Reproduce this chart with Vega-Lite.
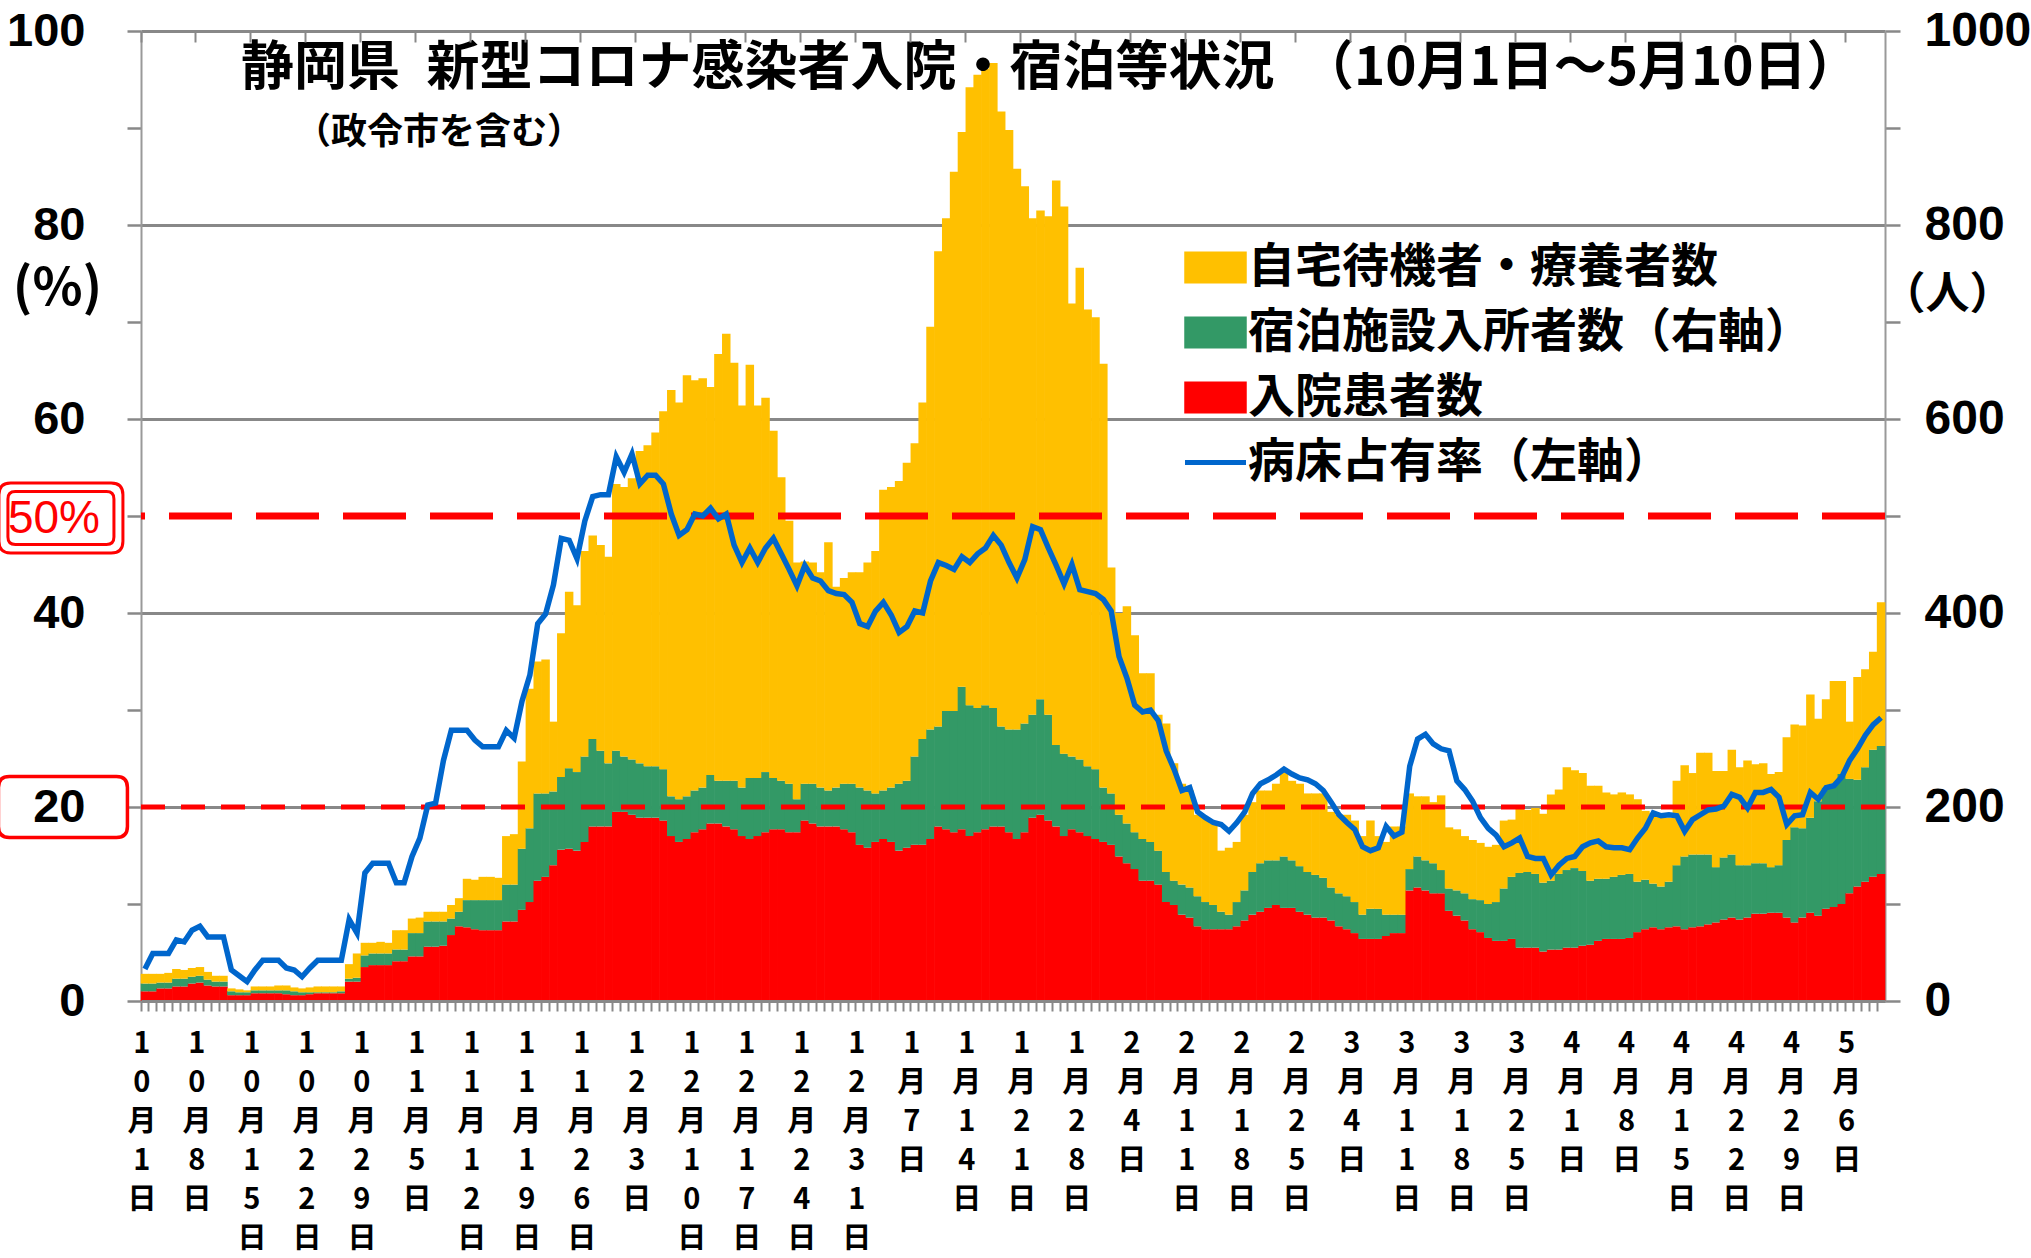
{
"$schema": "https://vega.github.io/schema/vega-lite/v6.json",
"width": 1744, "height": 970,
"autosize": {"type": "none"},
"padding": {"left": 141, "top": 31, "right": 146, "bottom": 257},
"background": "white",
"config": {"view": {"stroke": null}},
"title": {"text": "静岡県\u2002新型コロナ感染者入院・宿泊等状況　（10月1日～5月10日）", "subtitle": "\u200B　　（政令市を含む）", "anchor": "start", "frame": "group", "dx": 100, "offset": -144, "font": "Noto Sans CJK JP", "fontSize": 53, "fontWeight": "bold", "color": "#000000", "subtitleFont": "Noto Sans CJK JP", "subtitleFontSize": 36, "subtitleFontWeight": "bold", "subtitleColor": "#000000", "subtitlePadding": 20},
"data": {"values": [
{"d":"2020-10-01","h":10,"s":8,"w":10,"p":3.3},
{"d":"2020-10-02","h":10,"s":8,"w":10,"p":4.9},
{"d":"2020-10-03","h":13,"s":6,"w":9,"p":4.9},
{"d":"2020-10-04","h":13,"s":6,"w":10,"p":4.9},
{"d":"2020-10-05","h":15,"s":8,"w":10,"p":6.3},
{"d":"2020-10-06","h":15,"s":8,"w":9,"p":6.1},
{"d":"2020-10-07","h":18,"s":7,"w":9,"p":7.3},
{"d":"2020-10-08","h":19,"s":7,"w":9,"p":7.7},
{"d":"2020-10-09","h":16,"s":6,"w":8,"p":6.6},
{"d":"2020-10-10","h":15,"s":5,"w":6,"p":6.6},
{"d":"2020-10-11","h":15,"s":5,"w":6,"p":6.6},
{"d":"2020-10-12","h":6,"s":4,"w":3,"p":3.2},
{"d":"2020-10-13","h":6,"s":3,"w":3,"p":2.6},
{"d":"2020-10-14","h":6,"s":3,"w":2,"p":2.0},
{"d":"2020-10-15","h":8,"s":3,"w":4,"p":3.2},
{"d":"2020-10-16","h":8,"s":3,"w":4,"p":4.2},
{"d":"2020-10-17","h":8,"s":3,"w":4,"p":4.2},
{"d":"2020-10-18","h":8,"s":3,"w":5,"p":4.2},
{"d":"2020-10-19","h":7,"s":4,"w":5,"p":3.4},
{"d":"2020-10-20","h":6,"s":4,"w":4,"p":3.2},
{"d":"2020-10-21","h":6,"s":3,"w":4,"p":2.5},
{"d":"2020-10-22","h":7,"s":2,"w":5,"p":3.4},
{"d":"2020-10-23","h":8,"s":1,"w":6,"p":4.2},
{"d":"2020-10-24","h":8,"s":1,"w":6,"p":4.2},
{"d":"2020-10-25","h":8,"s":1,"w":6,"p":4.2},
{"d":"2020-10-26","h":8,"s":2,"w":5,"p":4.2},
{"d":"2020-10-27","h":20,"s":3,"w":15,"p":8.4},
{"d":"2020-10-28","h":20,"s":4,"w":25,"p":7.0},
{"d":"2020-10-29","h":35,"s":12,"w":13,"p":13.2},
{"d":"2020-10-30","h":37,"s":12,"w":11,"p":14.2},
{"d":"2020-10-31","h":37,"s":12,"w":12,"p":14.2},
{"d":"2020-11-01","h":37,"s":12,"w":11,"p":14.2},
{"d":"2020-11-02","h":41,"s":12,"w":20,"p":12.2},
{"d":"2020-11-03","h":41,"s":12,"w":20,"p":12.2},
{"d":"2020-11-04","h":46,"s":24,"w":15,"p":14.9},
{"d":"2020-11-05","h":46,"s":24,"w":16,"p":16.8},
{"d":"2020-11-06","h":56,"s":26,"w":10,"p":20.2},
{"d":"2020-11-07","h":56,"s":26,"w":10,"p":20.4},
{"d":"2020-11-08","h":57,"s":25,"w":10,"p":24.8},
{"d":"2020-11-09","h":68,"s":17,"w":14,"p":27.9},
{"d":"2020-11-10","h":77,"s":15,"w":14,"p":27.9},
{"d":"2020-11-11","h":76,"s":28,"w":22,"p":27.9},
{"d":"2020-11-12","h":74,"s":30,"w":21,"p":26.9},
{"d":"2020-11-13","h":73,"s":31,"w":24,"p":26.2},
{"d":"2020-11-14","h":73,"s":31,"w":24,"p":26.2},
{"d":"2020-11-15","h":73,"s":31,"w":23,"p":26.2},
{"d":"2020-11-16","h":82,"s":38,"w":50,"p":27.9},
{"d":"2020-11-17","h":82,"s":38,"w":52,"p":27.1},
{"d":"2020-11-18","h":94,"s":63,"w":90,"p":30.9},
{"d":"2020-11-19","h":102,"s":76,"w":144,"p":33.6},
{"d":"2020-11-20","h":124,"s":90,"w":136,"p":38.9},
{"d":"2020-11-21","h":128,"s":86,"w":138,"p":39.9},
{"d":"2020-11-22","h":140,"s":76,"w":72,"p":42.9},
{"d":"2020-11-23","h":156,"s":75,"w":148,"p":47.7},
{"d":"2020-11-24","h":157,"s":83,"w":182,"p":47.5},
{"d":"2020-11-25","h":155,"s":81,"w":172,"p":45.6},
{"d":"2020-11-26","h":164,"s":88,"w":212,"p":49.5},
{"d":"2020-11-27","h":180,"s":90,"w":210,"p":52.0},
{"d":"2020-11-28","h":180,"s":78,"w":212,"p":52.2},
{"d":"2020-11-29","h":180,"s":65,"w":213,"p":52.2},
{"d":"2020-11-30","h":195,"s":63,"w":275,"p":56.1},
{"d":"2020-12-01","h":195,"s":57,"w":278,"p":54.5},
{"d":"2020-12-02","h":192,"s":57,"w":290,"p":56.4},
{"d":"2020-12-03","h":189,"s":56,"w":322,"p":53.3},
{"d":"2020-12-04","h":189,"s":53,"w":331,"p":54.2},
{"d":"2020-12-05","h":189,"s":53,"w":344,"p":54.2},
{"d":"2020-12-06","h":186,"s":53,"w":369,"p":53.3},
{"d":"2020-12-07","h":170,"s":41,"w":419,"p":50.2},
{"d":"2020-12-08","h":164,"s":44,"w":409,"p":48.0},
{"d":"2020-12-09","h":167,"s":44,"w":434,"p":48.6},
{"d":"2020-12-10","h":174,"s":43,"w":423,"p":50.2},
{"d":"2020-12-11","h":177,"s":43,"w":422,"p":50.0},
{"d":"2020-12-12","h":183,"s":50,"w":400,"p":50.8},
{"d":"2020-12-13","h":183,"s":44,"w":440,"p":49.7},
{"d":"2020-12-14","h":180,"s":47,"w":461,"p":50.2},
{"d":"2020-12-15","h":177,"s":50,"w":431,"p":47.0},
{"d":"2020-12-16","h":170,"s":50,"w":394,"p":45.2},
{"d":"2020-12-17","h":167,"s":63,"w":426,"p":46.7},
{"d":"2020-12-18","h":170,"s":60,"w":384,"p":45.2},
{"d":"2020-12-19","h":174,"s":62,"w":386,"p":46.7},
{"d":"2020-12-20","h":177,"s":53,"w":358,"p":47.7},
{"d":"2020-12-21","h":177,"s":50,"w":313,"p":46.1},
{"d":"2020-12-22","h":174,"s":50,"w":271,"p":44.5},
{"d":"2020-12-23","h":174,"s":34,"w":244,"p":42.8},
{"d":"2020-12-24","h":186,"s":38,"w":229,"p":44.9},
{"d":"2020-12-25","h":183,"s":41,"w":228,"p":43.6},
{"d":"2020-12-26","h":180,"s":40,"w":222,"p":43.3},
{"d":"2020-12-27","h":180,"s":37,"w":256,"p":42.3},
{"d":"2020-12-28","h":180,"s":40,"w":207,"p":42.0},
{"d":"2020-12-29","h":177,"s":47,"w":212,"p":41.9},
{"d":"2020-12-30","h":174,"s":50,"w":218,"p":41.1},
{"d":"2020-12-31","h":161,"s":59,"w":222,"p":38.9},
{"d":"2021-01-01","h":158,"s":59,"w":235,"p":38.6},
{"d":"2021-01-02","h":164,"s":50,"w":250,"p":40.2},
{"d":"2021-01-03","h":167,"s":50,"w":310,"p":41.1},
{"d":"2021-01-04","h":164,"s":56,"w":310,"p":39.8},
{"d":"2021-01-05","h":155,"s":69,"w":312,"p":38.0},
{"d":"2021-01-06","h":158,"s":69,"w":328,"p":38.6},
{"d":"2021-01-07","h":161,"s":91,"w":323,"p":40.2},
{"d":"2021-01-08","h":161,"s":109,"w":347,"p":40.0},
{"d":"2021-01-09","h":167,"s":113,"w":415,"p":43.3},
{"d":"2021-01-10","h":180,"s":103,"w":490,"p":45.2},
{"d":"2021-01-11","h":177,"s":122,"w":508,"p":44.9},
{"d":"2021-01-12","h":174,"s":125,"w":556,"p":44.5},
{"d":"2021-01-13","h":177,"s":147,"w":572,"p":45.8},
{"d":"2021-01-14","h":170,"s":135,"w":637,"p":45.2},
{"d":"2021-01-15","h":174,"s":128,"w":653,"p":46.1},
{"d":"2021-01-16","h":177,"s":128,"w":656,"p":46.7},
{"d":"2021-01-17","h":180,"s":122,"w":665,"p":48.0},
{"d":"2021-01-18","h":180,"s":103,"w":634,"p":47.0},
{"d":"2021-01-19","h":174,"s":106,"w":618,"p":45.2},
{"d":"2021-01-20","h":167,"s":113,"w":578,"p":43.6},
{"d":"2021-01-21","h":174,"s":112,"w":554,"p":45.5},
{"d":"2021-01-22","h":189,"s":106,"w":512,"p":48.9},
{"d":"2021-01-23","h":192,"s":119,"w":504,"p":48.6},
{"d":"2021-01-24","h":186,"s":109,"w":514,"p":46.7},
{"d":"2021-01-25","h":180,"s":84,"w":582,"p":44.9},
{"d":"2021-01-26","h":170,"s":85,"w":564,"p":43.0},
{"d":"2021-01-27","h":177,"s":75,"w":467,"p":45.0},
{"d":"2021-01-28","h":174,"s":75,"w":507,"p":42.4},
{"d":"2021-01-29","h":170,"s":72,"w":471,"p":42.2},
{"d":"2021-01-30","h":167,"s":72,"w":466,"p":42.0},
{"d":"2021-01-31","h":164,"s":56,"w":437,"p":41.4},
{"d":"2021-02-01","h":161,"s":53,"w":233,"p":40.2},
{"d":"2021-02-02","h":149,"s":43,"w":208,"p":35.5},
{"d":"2021-02-03","h":142,"s":41,"w":224,"p":33.3},
{"d":"2021-02-04","h":136,"s":38,"w":203,"p":30.5},
{"d":"2021-02-05","h":124,"s":43,"w":171,"p":29.8},
{"d":"2021-02-06","h":124,"s":40,"w":174,"p":30.0},
{"d":"2021-02-07","h":120,"s":35,"w":140,"p":28.9},
{"d":"2021-02-08","h":102,"s":31,"w":153,"p":25.8},
{"d":"2021-02-09","h":99,"s":25,"w":121,"p":23.9},
{"d":"2021-02-10","h":89,"s":31,"w":104,"p":21.7},
{"d":"2021-02-11","h":86,"s":31,"w":100,"p":22.0},
{"d":"2021-02-12","h":77,"s":31,"w":84,"p":19.5},
{"d":"2021-02-13","h":74,"s":28,"w":87,"p":18.9},
{"d":"2021-02-14","h":74,"s":25,"w":84,"p":18.4},
{"d":"2021-02-15","h":74,"s":18,"w":63,"p":18.2},
{"d":"2021-02-16","h":74,"s":15,"w":69,"p":17.5},
{"d":"2021-02-17","h":77,"s":25,"w":62,"p":18.4},
{"d":"2021-02-18","h":83,"s":31,"w":78,"p":19.5},
{"d":"2021-02-19","h":89,"s":44,"w":72,"p":21.4},
{"d":"2021-02-20","h":92,"s":50,"w":75,"p":22.4},
{"d":"2021-02-21","h":96,"s":49,"w":72,"p":22.8},
{"d":"2021-02-22","h":99,"s":46,"w":79,"p":23.3},
{"d":"2021-02-23","h":96,"s":53,"w":87,"p":23.9},
{"d":"2021-02-24","h":96,"s":49,"w":82,"p":23.4},
{"d":"2021-02-25","h":92,"s":47,"w":85,"p":23.0},
{"d":"2021-02-26","h":89,"s":44,"w":81,"p":22.8},
{"d":"2021-02-27","h":86,"s":44,"w":84,"p":22.4},
{"d":"2021-02-28","h":86,"s":41,"w":87,"p":21.7},
{"d":"2021-03-01","h":83,"s":34,"w":78,"p":20.5},
{"d":"2021-03-02","h":77,"s":34,"w":81,"p":19.2},
{"d":"2021-03-03","h":74,"s":34,"w":84,"p":18.4},
{"d":"2021-03-04","h":70,"s":32,"w":84,"p":17.7},
{"d":"2021-03-05","h":64,"s":25,"w":81,"p":15.9},
{"d":"2021-03-06","h":64,"s":31,"w":91,"p":15.5},
{"d":"2021-03-07","h":64,"s":31,"w":75,"p":15.8},
{"d":"2021-03-08","h":67,"s":22,"w":75,"p":18.0},
{"d":"2021-03-09","h":70,"s":19,"w":91,"p":17.0},
{"d":"2021-03-10","h":70,"s":19,"w":91,"p":17.4},
{"d":"2021-03-11","h":114,"s":22,"w":78,"p":24.2},
{"d":"2021-03-12","h":117,"s":32,"w":62,"p":27.0},
{"d":"2021-03-13","h":114,"s":31,"w":66,"p":27.5},
{"d":"2021-03-14","h":111,"s":31,"w":63,"p":26.5},
{"d":"2021-03-15","h":111,"s":24,"w":77,"p":26.0},
{"d":"2021-03-16","h":93,"s":23,"w":63,"p":25.8},
{"d":"2021-03-17","h":88,"s":26,"w":63,"p":22.7},
{"d":"2021-03-18","h":83,"s":28,"w":59,"p":21.8},
{"d":"2021-03-19","h":74,"s":31,"w":61,"p":20.6},
{"d":"2021-03-20","h":71,"s":33,"w":59,"p":18.9},
{"d":"2021-03-21","h":65,"s":35,"w":59,"p":17.8},
{"d":"2021-03-22","h":62,"s":40,"w":59,"p":17.1},
{"d":"2021-03-23","h":62,"s":54,"w":70,"p":15.9},
{"d":"2021-03-24","h":64,"s":64,"w":59,"p":16.3},
{"d":"2021-03-25","h":55,"s":77,"w":66,"p":16.8},
{"d":"2021-03-26","h":55,"s":78,"w":64,"p":14.9},
{"d":"2021-03-27","h":55,"s":76,"w":68,"p":14.7},
{"d":"2021-03-28","h":51,"s":71,"w":71,"p":14.7},
{"d":"2021-03-29","h":53,"s":71,"w":89,"p":13.0},
{"d":"2021-03-30","h":53,"s":78,"w":87,"p":14.0},
{"d":"2021-03-31","h":55,"s":80,"w":106,"p":14.7},
{"d":"2021-04-01","h":55,"s":82,"w":101,"p":14.9},
{"d":"2021-04-02","h":57,"s":77,"w":101,"p":15.9},
{"d":"2021-04-03","h":58,"s":66,"w":98,"p":16.3},
{"d":"2021-04-04","h":62,"s":64,"w":96,"p":16.5},
{"d":"2021-04-05","h":64,"s":62,"w":89,"p":15.9},
{"d":"2021-04-06","h":64,"s":64,"w":85,"p":15.8},
{"d":"2021-04-07","h":64,"s":66,"w":85,"p":15.8},
{"d":"2021-04-08","h":65,"s":66,"w":82,"p":15.6},
{"d":"2021-04-09","h":71,"s":52,"w":85,"p":16.8},
{"d":"2021-04-10","h":74,"s":51,"w":71,"p":17.8},
{"d":"2021-04-11","h":76,"s":45,"w":73,"p":19.4},
{"d":"2021-04-12","h":74,"s":44,"w":75,"p":19.1},
{"d":"2021-04-13","h":76,"s":47,"w":66,"p":19.2},
{"d":"2021-04-14","h":77,"s":63,"w":87,"p":19.1},
{"d":"2021-04-15","h":74,"s":75,"w":94,"p":17.5},
{"d":"2021-04-16","h":76,"s":75,"w":84,"p":18.7},
{"d":"2021-04-17","h":77,"s":74,"w":105,"p":19.2},
{"d":"2021-04-18","h":79,"s":72,"w":105,"p":19.7},
{"d":"2021-04-19","h":81,"s":57,"w":99,"p":19.8},
{"d":"2021-04-20","h":84,"s":64,"w":89,"p":20.1},
{"d":"2021-04-21","h":86,"s":65,"w":108,"p":21.3},
{"d":"2021-04-22","h":84,"s":56,"w":101,"p":21.0},
{"d":"2021-04-23","h":86,"s":54,"w":108,"p":19.9},
{"d":"2021-04-24","h":90,"s":52,"w":102,"p":21.5},
{"d":"2021-04-25","h":90,"s":52,"w":103,"p":21.5},
{"d":"2021-04-26","h":91,"s":47,"w":96,"p":21.8},
{"d":"2021-04-27","h":91,"s":49,"w":96,"p":21.0},
{"d":"2021-04-28","h":86,"s":80,"w":106,"p":18.2},
{"d":"2021-04-29","h":81,"s":98,"w":106,"p":19.1},
{"d":"2021-04-30","h":86,"s":92,"w":106,"p":19.2},
{"d":"2021-05-01","h":91,"s":98,"w":127,"p":21.5},
{"d":"2021-05-02","h":88,"s":118,"w":85,"p":20.8},
{"d":"2021-05-03","h":95,"s":125,"w":91,"p":22.0},
{"d":"2021-05-04","h":97,"s":127,"w":106,"p":22.2},
{"d":"2021-05-05","h":100,"s":134,"w":96,"p":23.1},
{"d":"2021-05-06","h":111,"s":118,"w":59,"p":24.8},
{"d":"2021-05-07","h":118,"s":110,"w":106,"p":26.0},
{"d":"2021-05-08","h":123,"s":118,"w":101,"p":27.4},
{"d":"2021-05-09","h":128,"s":131,"w":101,"p":28.5},
{"d":"2021-05-10","h":131,"s":132,"w":148,"p":29.2}
]},
"layer": [
 {
  "transform": [{"fold": ["h","s","w"], "as": ["k","v"]}],
  "mark": {"type": "bar", "width": {"band": 1.08}},
  "encoding": {
   "x": {"field": "d", "type": "ordinal", "scale": {"paddingInner": 0, "paddingOuter": 0},
     "axis": {"bandPosition": 0, "title": null,
       "labelExpr": "utcday(toDate(datum.value)) == 4 ? split(toString(utcmonth(toDate(datum.value)) + 1) + '月' + toString(utcdate(toDate(datum.value))) + '日', '') : ''",
       "labelAngle": 0, "labelAlign": "center", "labelBaseline": "top", "labelFont": "Noto Sans CJK JP", "labelFontSize": 29, "labelFontWeight": "bold", "labelLineHeight": 39, "labelPadding": 18, "labelOffset": -3, "labelColor": "#000000",
       "labelOverlap": false, "labelBound": false, "labelFlush": false,
       "tickSize": 10,
       "tickColor": "#888888", "tickWidth": 2, "domainColor": "#888888", "domainWidth": 3,
       "grid": true, "gridDash": [11, 3000], "gridColor": "#888888", "gridWidth": 2,
       "gridOpacity": {"condition": {"test": "utcday(toDate(datum.value)) == 4", "value": 1}, "value": 0},
       "zindex": 1}},
   "y": {"field": "v", "type": "quantitative", "stack": "zero", "scale": {"domain": [0, 1000], "nice": false},
     "axis": {"orient": "right", "values": [0,100,200,300,400,500,600,700,800,900,1000], "format": "d",
       "labelExpr": "datum.value % 200 == 0 ? datum.label : ''",
       "labelFont": "Liberation Sans", "labelFontSize": 48, "labelFontWeight": "bold", "labelColor": "#000000", "labelPadding": 24, "labelFlush": false, "labelOverlap": false, "labelBound": false,
       "tickSize": 15, "tickColor": "#888888", "tickWidth": 2.5, "domainColor": "#999999", "domainWidth": 2,
       "grid": true, "gridColor": "#888888", "gridWidth": 3,
       "gridOpacity": {"condition": {"test": "datum.value % 200 == 0", "value": 1}, "value": 0},
       "title": "（人）", "titleAngle": 0, "titleX": 62, "titleY": 264, "titleFont": "Noto Sans CJK JP", "titleFontSize": 44, "titleFontWeight": "bold", "titleAlign": "center", "titleBaseline": "middle", "titleColor": "#000000"}},
   "color": {"field": "k", "type": "nominal",
     "scale": {"domain": ["w","s","h","p"], "range": ["#FFC000","#339966","#FF0000","#0066CC"]},
     "legend": {"orient": "none", "legendX": 1051, "legendY": 213, "title": null, "direction": "vertical", "padding": 0,
       "symbolType": {"expr": "datum.value == 'p' ? 'M-1,0H1' : 'M-1,-0.5H1V0.5H-1Z'"},
       "symbolSize": 3721,
       "symbolStrokeWidth": {"expr": "datum.value == 'p' ? 5 : 1.5"},
       "symbolStrokeColor": {"expr": "datum.value == 'p' ? '#0066CC' : datum.value == 's' ? '#339966' : datum.value == 'h' ? '#FF0000' : '#FFC000'"},
       "symbolFillColor": {"expr": "datum.value == 'p' ? 'transparent' : datum.value == 's' ? '#00B050' : datum.value == 'h' ? '#FF0000' : '#FFC000'"},
       "symbolOpacity": 1,
       "labelExpr": "datum.value == 'w' ? '自宅待機者・療養者数' : datum.value == 's' ? '宿泊施設入所者数（右軸）' : datum.value == 'h' ? '入院患者数' : '病床占有率（左軸）'",
       "labelFont": "Noto Sans CJK JP", "labelFontSize": 47, "labelFontWeight": "bold", "labelColor": "#000000", "labelLimit": 1000, "labelOffset": 9, "rowPadding": 17}},
   "order": {"field": "k", "sort": "ascending"}
  }
 },
 {
  "layer": [
   {
    "data": {"values": [{"v": 50}]},
    "mark": {"type": "rule", "color": "#FF0000", "strokeWidth": 7, "strokeDash": [63, 24]},
    "encoding": {"y": {"field": "v", "type": "quantitative"}}
   },
   {
    "data": {"values": [{"v": 20}]},
    "mark": {"type": "rule", "color": "#FF0000", "strokeWidth": 5, "strokeDash": [24, 16]},
    "encoding": {"y": {"field": "v", "type": "quantitative"}}
   },
   {
    "data": {"values": [{"v": 50, "d": "2020-10-01"}]},
    "mark": {"type": "point", "filled": false, "opacity": 1, "color": "#FF0000", "strokeWidth": 3, "size": 15376, "xOffset": -84, "yOffset": 2,
      "shape": "M-0.81,-0.565H0.81Q1,-0.565 1,-0.375V0.375Q1,0.565 0.81,0.565H-0.81Q-1,0.565 -1,0.375V-0.375Q-1,-0.565 -0.81,-0.565ZM-0.735,-0.427H0.735Q0.855,-0.427 0.855,-0.307V0.307Q0.855,0.427 0.735,0.427H-0.735Q-0.855,0.427 -0.855,0.307V-0.307Q-0.855,-0.427 -0.735,-0.427Z"},
    "encoding": {"x": {"field": "d", "type": "ordinal"}, "y": {"field": "v", "type": "quantitative"}}
   },
   {
    "data": {"values": [{"v": 50, "d": "2020-10-01", "t": "50%"}]},
    "mark": {"type": "text", "font": "Liberation Sans", "fontSize": 46, "color": "#FF0000", "align": "center", "baseline": "middle", "dx": -91, "dy": 3},
    "encoding": {"x": {"field": "d", "type": "ordinal"}, "y": {"field": "v", "type": "quantitative"}, "text": {"field": "t"}}
   },
   {
    "data": {"values": [{"v": 20, "d": "2020-10-01"}]},
    "mark": {"type": "point", "filled": false, "opacity": 1, "color": "#FF0000", "strokeWidth": 3.5, "size": 16641, "xOffset": -82,
      "shape": "M-0.83,-0.473H0.83Q1,-0.473 1,-0.303V0.303Q1,0.473 0.83,0.473H-0.83Q-1,0.473 -1,0.303V-0.303Q-1,-0.473 -0.83,-0.473Z"},
    "encoding": {"x": {"field": "d", "type": "ordinal"}, "y": {"field": "v", "type": "quantitative"}}
   },
   {
    "mark": {"type": "line", "strokeWidth": 5.5},
    "encoding": {
     "x": {"field": "d", "type": "ordinal"},
     "y": {"field": "p", "type": "quantitative", "scale": {"domain": [0, 100], "nice": false},
       "axis": {"orient": "left", "values": [0,10,20,30,40,50,60,70,80,90,100],
         "labelExpr": "datum.value % 20 == 0 ? datum.label : ''",
         "labelFont": "Liberation Sans", "labelFontSize": 47, "labelFontWeight": "bold", "labelColor": "#000000", "labelPadding": 42, "labelFlush": false, "labelOverlap": false, "labelBound": false,
         "tickSize": 14,
         "tickColor": "#888888", "tickWidth": 2.5, "domainColor": "#999999", "domainWidth": 2, "grid": false,
         "title": "(%)", "titleAngle": 0, "titleX": -84, "titleY": 257, "titleFont": "Noto Sans CJK JP", "titleFontSize": 52, "titleFontWeight": "bold", "titleAlign": "center", "titleBaseline": "middle", "titleColor": "#000000"}},
     "color": {"datum": "p", "legend": null}
    }
   }
  ]
 }
],
"resolve": {"scale": {"y": "independent"}}
}
